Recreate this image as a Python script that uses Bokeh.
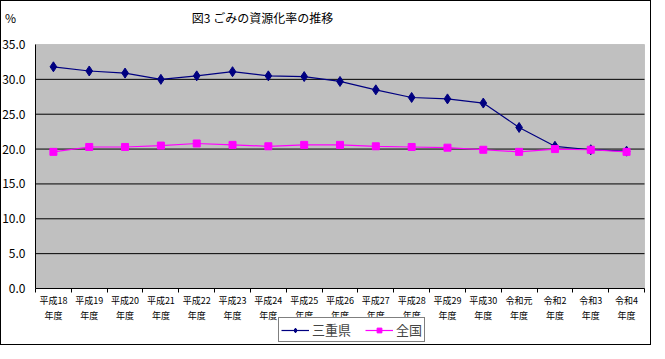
from bokeh.plotting import figure
from bokeh.models import (FixedTicker, Legend, LegendItem, Range1d, Label,
                          LinearAxis, BoxAnnotation)
from bokeh.core.properties import value
from bokeh.embed import file_html
from bokeh.resources import INLINE

categories = ["平成18", "平成19", "平成20", "平成21", "平成22", "平成23", "平成24",
              "平成25", "平成26", "平成27", "平成28", "平成29", "平成30",
              "令和元", "令和2", "令和3", "令和4"]
mie = [31.8, 31.2, 30.9, 30.0, 30.5, 31.1, 30.5, 30.4, 29.7, 28.5, 27.4, 27.2,
       26.6, 23.1, 20.4, 19.9, 19.7]
national = [19.6, 20.3, 20.3, 20.5, 20.8, 20.6, 20.4, 20.6, 20.6, 20.4, 20.3,
            20.2, 19.9, 19.6, 20.0, 19.9, 19.6]
y_ticks = [0, 5, 10, 15, 20, 25, 30, 35]
series_names = ["三重県", "全国"]
title_text = "図3 ごみの資源化率の推移"
unit_text = "%"

FONT = "Noto Sans CJK JP"
xs = list(range(1, len(categories) + 1))

# page layout (pixels)
W, H = 649, 343
PA_LEFT, PA_RIGHT, PA_TOP, PA_BOTTOM = 34, 643, 43, 287   # grey plot area

x_lo, x_hi = 0.5, len(categories) + 0.5
y_lo, y_hi = y_ticks[0], y_ticks[-1]
ppx = (PA_RIGHT - PA_LEFT) / (x_hi - x_lo)
ppy = (PA_BOTTOM - PA_TOP) / (y_hi - y_lo)
x_start = x_lo - PA_LEFT / ppx
x_end = x_hi + (W - PA_RIGHT) / ppx
y_end = y_hi + PA_TOP / ppy
y_start = y_lo - (H - PA_BOTTOM) / ppy


def px_to_data(px, py):
    return x_start + px / ppx, y_end - py / ppy


p = figure(frame_width=W, frame_height=H, output_backend="svg", toolbar_location=None,
           x_axis_location=None, y_axis_location=None,
           x_range=Range1d(x_start, x_end), y_range=Range1d(y_start, y_end),
           min_border_left=0, min_border_right=0, min_border_top=0, min_border_bottom=0,
           background_fill_color="white", border_fill_color="white",
           outline_line_color=None, title=None)
p.xgrid.visible = False
p.ygrid.visible = False

# grey plot area
p.add_layout(BoxAnnotation(left=x_lo, right=x_hi, bottom=y_lo, top=y_hi,
                           fill_color="#C0C0C0", fill_alpha=1, line_color="#808080",
                           line_width=1, level="image"))

# horizontal grid lines at the inner y ticks
inner = y_ticks[1:-1]
p.segment(x0=[x_lo] * len(inner), x1=[x_hi] * len(inner), y0=inner, y1=inner,
          line_color="black", line_width=1)

# y axis fixed at the left edge of the plot area
yaxis = LinearAxis(fixed_location=x_lo, bounds=(y_lo, y_hi),
                   ticker=FixedTicker(ticks=y_ticks),
                   major_label_overrides={t: f"{t:.1f}" for t in y_ticks},
                   major_tick_out=0, major_tick_in=0, minor_tick_out=0, minor_tick_in=0,
                   major_label_standoff=10, major_label_text_font=FONT,
                   major_label_text_font_size="12px", major_label_text_color="black",
                   axis_line_color="black")
p.add_layout(yaxis, "left")

# x axis fixed at y = 0
xaxis = LinearAxis(fixed_location=y_lo, bounds=(x_lo, x_hi),
                   ticker=FixedTicker(ticks=xs, minor_ticks=[x + 0.5 for x in range(0, len(categories) + 1)]),
                   major_label_overrides={x: f"{c}\n年度" for x, c in zip(xs, categories)},
                   major_tick_out=0, major_tick_in=0, minor_tick_out=4, minor_tick_in=0,
                   minor_tick_line_color="black", major_label_standoff=1,
                   major_label_text_font=FONT, major_label_text_font_size="9px",
                   major_label_text_line_height=1.2, major_label_text_color="black",
                   axis_line_color="black")
p.add_layout(xaxis, "below")

# series
l1 = p.line(xs, mie, line_color="#000080", line_width=1.2)
m1 = p.scatter(xs, mie, marker="diamond", size=10, fill_color="#000080", line_color="#000080")
l2 = p.line(xs, national, line_color="#FF00FF", line_width=1.2)
m2 = p.scatter(xs, national, marker="square", size=7, fill_color="#FF00FF", line_color="#FF00FF")

# title and unit
tx, ty = px_to_data(261, 16)
p.add_layout(Label(x=tx, y=ty, text=title_text, text_align="center", text_baseline="middle",
                   text_font=FONT, text_font_size="12px", text_color="black"))
ux, uy = px_to_data(9, 16)
p.add_layout(Label(x=ux, y=uy, text=unit_text, text_align="center", text_baseline="middle",
                   text_font=FONT, text_font_size="12px", text_color="black"))

legend = Legend(items=[LegendItem(label=series_names[0], renderers=[l1, m1]),
                       LegendItem(label=series_names[1], renderers=[l2, m2])],
                location=(277, 2), orientation="horizontal",
                border_line_color="black", border_line_width=1,
                background_fill_color="white", background_fill_alpha=1,
                label_text_font=FONT, label_text_font_size="13px",
                label_height=12,
                glyph_width=28, glyph_height=12, label_standoff=3, spacing=14,
                padding=2, margin=0)
p.add_layout(legend)

p.styles = {"border": "1px solid black"}

open("out.html", "w").write(file_html(p, INLINE))
